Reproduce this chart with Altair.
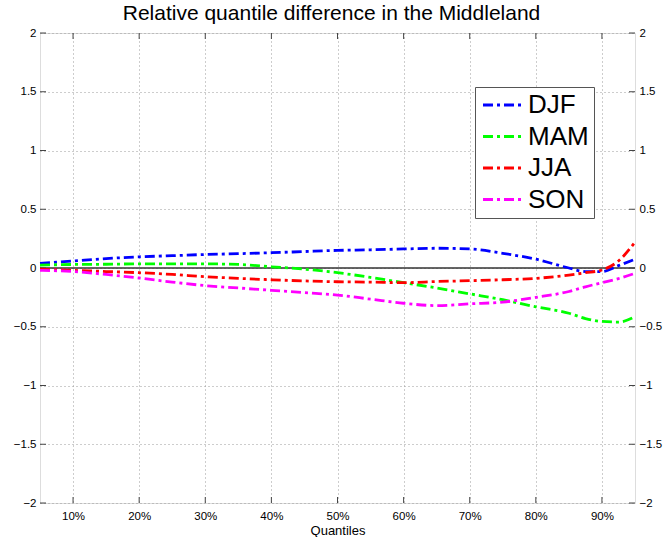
import altair as alt
import pandas as pd

# Quantile levels and relative differences per season
quantiles = [0.05, 0.10, 0.15, 0.20, 0.25, 0.30, 0.35, 0.40, 0.45, 0.50, 0.55,
             0.60, 0.65, 0.70, 0.75, 0.80, 0.85, 0.875, 0.90, 0.925, 0.95]
djf = [0.04, 0.06, 0.08, 0.095, 0.105, 0.115, 0.122, 0.13, 0.14, 0.15, 0.155,
       0.162, 0.168, 0.162, 0.125, 0.075, 0.0, -0.03, -0.03, 0.02, 0.075]
mam = [0.025, 0.03, 0.032, 0.035, 0.035, 0.035, 0.03, 0.01, -0.01, -0.04, -0.08,
       -0.125, -0.17, -0.22, -0.27, -0.33, -0.385, -0.43, -0.455, -0.46, -0.415]
jja = [-0.01, -0.02, -0.03, -0.04, -0.055, -0.074, -0.088, -0.10, -0.11, -0.117, -0.12,
       -0.125, -0.115, -0.108, -0.10, -0.088, -0.06, -0.04, -0.017, 0.06, 0.22]
son = [-0.02, -0.03, -0.055, -0.085, -0.12, -0.15, -0.17, -0.19, -0.21, -0.23, -0.265,
       -0.30, -0.32, -0.305, -0.29, -0.25, -0.20, -0.16, -0.125, -0.09, -0.045]

seasons = ["DJF", "MAM", "JJA", "SON"]
colors = ["#0000ff", "#00ff00", "#ff0000", "#ff00ff"]
x_ticks = [0.1, 0.2, 0.3, 0.4, 0.5, 0.6, 0.7, 0.8, 0.9]
y_ticks = [-2, -1.5, -1, -0.5, 0, 0.5, 1, 1.5, 2]

W, H = 595, 470
FONT = "Liberation Sans"
DASH = [10, 4, 3, 4]

rows = []
for name, vals in zip(seasons, [djf, mam, jja, son]):
    for q, v in zip(quantiles, vals):
        rows.append({"q": q, "v": v, "season": name})
df = pd.DataFrame(rows)

xscale = alt.Scale(domain=[0.05, 0.95], nice=False, zero=False)
yscale = alt.Scale(domain=[-2, 2], nice=False, zero=False)

grid_style = dict(grid=True, gridColor="#9a9a9a", gridDash=[1, 3], gridWidth=1,
                  ticks=False, domain=False, labelFont=FONT, labelFontSize=11.5,
                  labelColor="#000")

zero_line = alt.Chart(pd.DataFrame({"v": [0]})).mark_rule(
    color="#333", strokeWidth=1.4
).encode(y=alt.Y("v:Q", scale=yscale, axis=None))

lines = alt.Chart(df).mark_line(
    strokeWidth=2.8, strokeDash=DASH, interpolate="monotone"
).encode(
    x=alt.X("q:Q", scale=xscale, title="Quantiles",
            axis=alt.Axis(values=x_ticks, format=".0%", labelPadding=7,
                          titleFont=FONT, titleFontSize=13, titleFontWeight="normal",
                          titlePadding=3, titleColor="#000", **grid_style)),
    y=alt.Y("v:Q", scale=yscale, title=None,
            axis=alt.Axis(values=y_ticks, format="~g", orient="left",
                          labelPadding=4, **grid_style)),
    color=alt.Color("season:N", scale=alt.Scale(domain=seasons, range=colors),
                    title=None,
                    legend=alt.Legend(orient="none", legendX=435, legendY=54,
                                      symbolType="M-1,0H3", symbolSize=400,
                                      symbolStrokeWidth=3, symbolDash=DASH,
                                      labelFont=FONT, labelFontSize=26,
                                      labelColor="#000", labelOffset=22,
                                      rowPadding=5.5,
                                      strokeColor="#555", padding=5,
                                      fillColor="#fff")),
    detail="season:N",
)

tick_y = pd.DataFrame({"v": y_ticks})
tick_x = pd.DataFrame({"q": x_ticks})

left_ticks = alt.Chart(tick_y).mark_rule(color="#444").encode(
    y=alt.Y("v:Q", scale=yscale, axis=None), x=alt.value(0), x2=alt.value(6))
right_ticks = alt.Chart(tick_y).mark_rule(color="#444").encode(
    y=alt.Y("v:Q", scale=yscale, title=None,
            axis=alt.Axis(orient="right", values=y_ticks, format="~g", grid=False,
                          ticks=False, domain=False, labelPadding=4,
                          labelFont=FONT, labelFontSize=11.5, labelColor="#000")),
    x=alt.value(W), x2=alt.value(W - 6))
bottom_ticks = alt.Chart(tick_x).mark_rule(color="#444").encode(
    x=alt.X("q:Q", scale=xscale, axis=None), y=alt.value(H), y2=alt.value(H - 6))
top_ticks = alt.Chart(tick_x).mark_rule(color="#444").encode(
    x=alt.X("q:Q", scale=xscale, axis=None), y=alt.value(0), y2=alt.value(6))

chart = alt.layer(
    zero_line, left_ticks, right_ticks, bottom_ticks, top_ticks, lines
).resolve_axis(
    y="independent", x="independent"
).properties(
    width=W, height=H,
    autosize=alt.AutoSizeParams(type="none"),
    padding={"left": 40, "top": 33, "right": 29, "bottom": 34},
    title=alt.TitleParams("Relative quantile difference in the Middleland",
                          font=FONT, fontSize=21, fontWeight="normal",
                          color="#000", anchor="middle", offset=3, dx=-6),
).configure_view(
    stroke="#555", strokeWidth=1.6
).configure(background="#ffffff")

chart.save("out.html", embed_options={"renderer": "svg", "actions": False})
